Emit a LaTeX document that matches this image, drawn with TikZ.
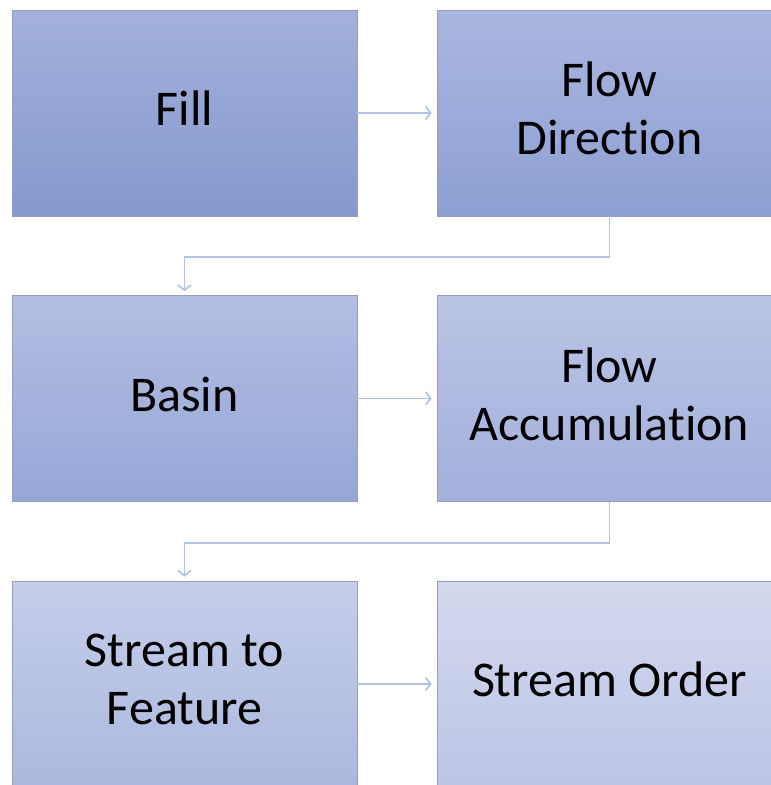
\documentclass[tikz,border=0pt]{standalone}
\usepackage{fontspec}
\setmainfont{Carlito}[Ligatures=NoCommon]
\usetikzlibrary{arrows.meta}

\definecolor{linkblue}{RGB}{178,194,230}
\definecolor{edgegray}{RGB}{150,158,185}

\begin{document}
\begin{tikzpicture}[x=1pt,y=-1pt,
  stepbox/.style={draw=edgegray, line width=0.6pt, minimum width=345pt, minimum height=206pt,
    align=center, font=\fontsize{50}{58}\selectfont, inner sep=0pt, text depth=9pt},
  link/.style={draw=linkblue, line width=1.7pt, -{Straight Barb[length=5pt,width=13pt]}}]

\useasboundingbox (0,0) rectangle (771,785);
\clip (0,0) rectangle (771,785);

\node[stepbox, top color={rgb,255:red,163;green,176;blue,219}, bottom color={rgb,255:red,133;green,153;blue,206}] (fill) at (184.5,113) {Fill};
\node[stepbox, top color={rgb,255:red,170;green,182;blue,223}, bottom color={rgb,255:red,141;green,159;blue,211}] (flowdir) at (609.5,113) {Flow\\Direction};

\node[stepbox, top color={rgb,255:red,179;green,190;blue,226}, bottom color={rgb,255:red,149;green,166;blue,215}] (basin) at (184.5,398.5) {Basin};
\node[stepbox, top color={rgb,255:red,186;green,196;blue,229}, bottom color={rgb,255:red,162;green,176;blue,220}] (flowacc) at (609.5,398.5) {Flow\\Accumulation};

\node[stepbox, top color={rgb,255:red,197;green,205;blue,233}, bottom color={rgb,255:red,171;green,184;blue,223}] (stream) at (184.5,684) {Stream to\\Feature};
\node[stepbox, top color={rgb,255:red,211;green,216;blue,238}, bottom color={rgb,255:red,188;green,197;blue,230}] (order) at (609.5,684) {Stream Order};

\draw[link, shorten >=5pt] (fill.east) -- (flowdir.west);
\draw[link, shorten >=5pt] (basin.east) -- (flowacc.west);
\draw[link, shorten >=5pt] (stream.east) -- (order.west);

\draw[link, shorten >=4pt] (flowdir.south) -- ++(0,41) -| (basin.north);
\draw[link, shorten >=4pt] (flowacc.south) -- ++(0,41) -| (stream.north);
\end{tikzpicture}
\end{document}
